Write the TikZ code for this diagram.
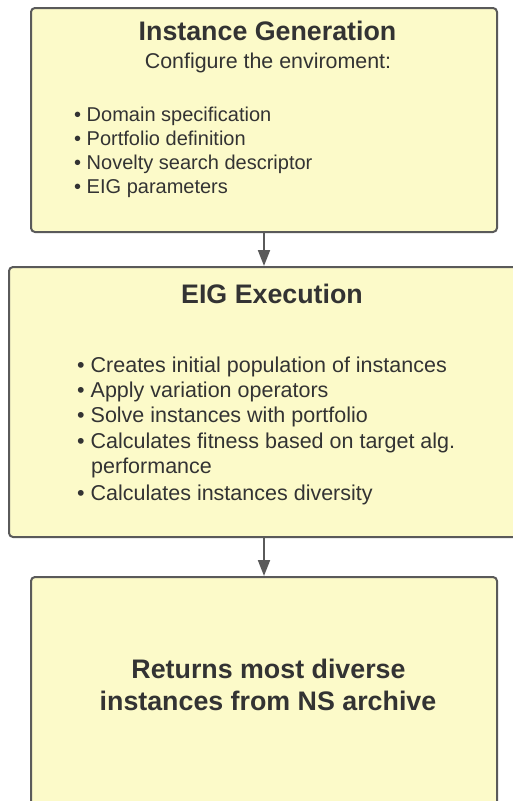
\documentclass[tikz,border=0pt]{standalone}
\usepackage{fontspec}
\setmainfont{Liberation Sans}
\usetikzlibrary{arrows.meta}
\definecolor{boxfill}{HTML}{FCFAC9}
\definecolor{boxline}{HTML}{5A5A5A}
\definecolor{txt}{HTML}{333333}
\tikzset{
  card/.style={draw=boxline, fill=boxfill, line width=2pt, rounded corners=4pt},
  title/.style={anchor=base, text=txt, font=\fontsize{26.8}{30}\selectfont\bfseries, inner sep=0pt},
  sub/.style={anchor=base, text=txt, font=\fontsize{21.4}{24}\selectfont, inner sep=0pt},
  itemA/.style={anchor=base west, text=txt, font=\fontsize{20}{24}\selectfont, inner sep=0pt},
  itemB/.style={anchor=base west, text=txt, font=\fontsize{21.5}{26}\selectfont, inner sep=0pt},
  link/.style={draw=boxline, line width=2pt, -{Triangle[length=16pt,width=12pt]}}
}
\begin{document}
\begin{tikzpicture}[x=1pt,y=-1pt]
\useasboundingbox (0,0) rectangle (513,801);
\begin{scope}
\clip (0,0) rectangle (513,801);
\draw[card] (31,8) rectangle (497,232);
\draw[card] (9,267) rectangle (530,537);
\draw[card] (31,577) rectangle (497,815);
\end{scope}
\coordinate (b1s) at (264,233);
\coordinate (b2n) at (264,266);
\coordinate (b2s) at (264,538);
\coordinate (b3n) at (264,576);
\draw[link] (b1s) -- (b2n);
\draw[link] (b2s) -- (b3n);

\node[title] (t1) at (267.5,40) {Instance Generation};
\node[sub] (s1) at (268,68) {Configure the enviroment:};
\node[itemA] (a1) at (74,121) {\textbullet\ Domain specification};
\node[itemA] (a2) at (74,145) {\textbullet\ Portfolio definition};
\node[itemA] (a3) at (74,169) {\textbullet\ Novelty search descriptor};
\node[itemA] (a4) at (74,193) {\textbullet\ EIG parameters};

\node[title] (t2) at (272,303) {EIG Execution};
\node[itemB] (c1) at (77,372) {\textbullet\ Creates initial population of instances};
\node[itemB] (c2) at (77,397) {\textbullet\ Apply variation operators};
\node[itemB] (c3) at (77,422) {\textbullet\ Solve instances with portfolio};
\node[itemB] (c4) at (77,448) {\textbullet\ Calculates fitness based on target alg.};
\node[itemB] (c5) at (91,473) {performance};
\node[itemB] (c6) at (77,500) {\textbullet\ Calculates instances diversity};

\node[title] (r1) at (268.5,678) {Returns most diverse};
\node[title] (r2) at (268,710) {instances from NS archive};
\end{tikzpicture}
\end{document}
